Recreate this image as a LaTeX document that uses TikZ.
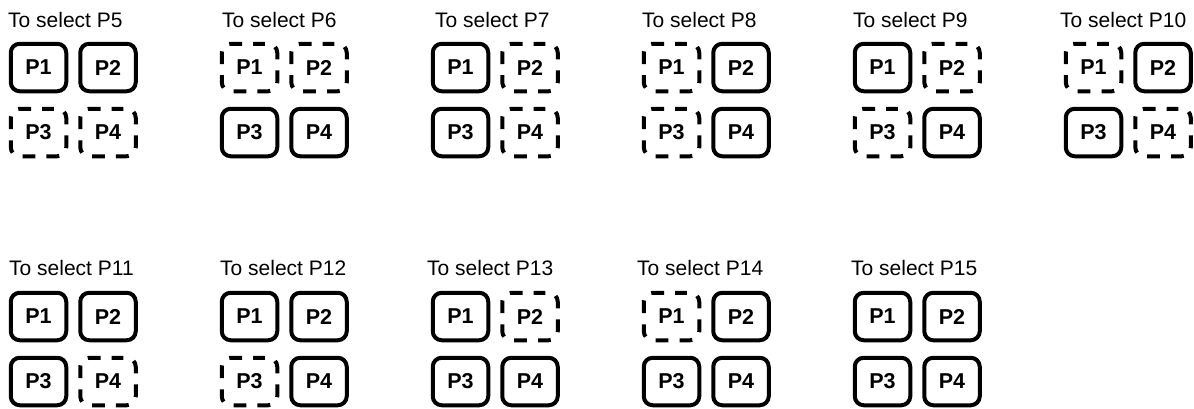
\documentclass[tikz,border=0pt]{standalone}
\usepackage{fontspec}
\setmainfont{Liberation Sans}
\begin{document}
\begin{tikzpicture}[x=1pt,y=-1pt,
  title/.style={anchor=base west,inner sep=0pt,font=\fontsize{21}{24}\selectfont},
  pbox/.style={minimum width=55.5pt,minimum height=47.5pt,inner sep=0pt,outer sep=0pt,
    font=\fontsize{21.5}{24}\selectfont\bfseries},
  solidbox/.style={draw,line width=4pt,rounded corners=9pt},
  dashline/.style={line width=4pt,rounded corners=9pt,
    dash pattern=on 12.8pt off 11.1pt,dash phase=6.4pt}]
\useasboundingbox (0,0) rectangle (1194,408);
\foreach \n/\tx/\ty/\gx/\gy/\qa/\qb/\qc/\qd in {
  5/8/27/38.5/67.5/s/s/d/d,
  6/222/27/249.5/67.5/d/d/s/s,
  7/435/27/460.5/67.5/s/d/s/d,
  8/642/27/671.5/67.5/d/s/d/s,
  9/853/27/882.5/67.5/s/d/d/s,
  10/1060/27/1093.5/67.5/d/s/s/d,
  11/9/275/38.5/316.5/s/s/s/d,
  12/220/275/249.5/316.5/s/s/d/s,
  13/427/275/460.5/316.5/s/d/s/s,
  14/637/275/671.5/316.5/d/s/s/s,
  15/851/275/882.5/316.5/s/s/s/s}
{
  \node[title] (t\n) at (\tx,\ty) {To select P\n};
  \foreach \k/\dx/\dy/\st in {1/0/0/\qa,2/69.5/0/\qb,3/0/65/\qc,4/69.5/65/\qd}
  {
    \if s\st
      \node[pbox,solidbox] (g\n-\k) at (\gx+\dx,\gy+\dy) {P\k};
    \else
      \node[pbox] (g\n-\k) at (\gx+\dx,\gy+\dy) {P\k};
      \draw[dashline] (g\n-\k.north) -- (g\n-\k.north east) -- (g\n-\k.south east)
        -- (g\n-\k.south west) -- (g\n-\k.north west) -- cycle;
    \fi
  }
}
\end{tikzpicture}
\end{document}
